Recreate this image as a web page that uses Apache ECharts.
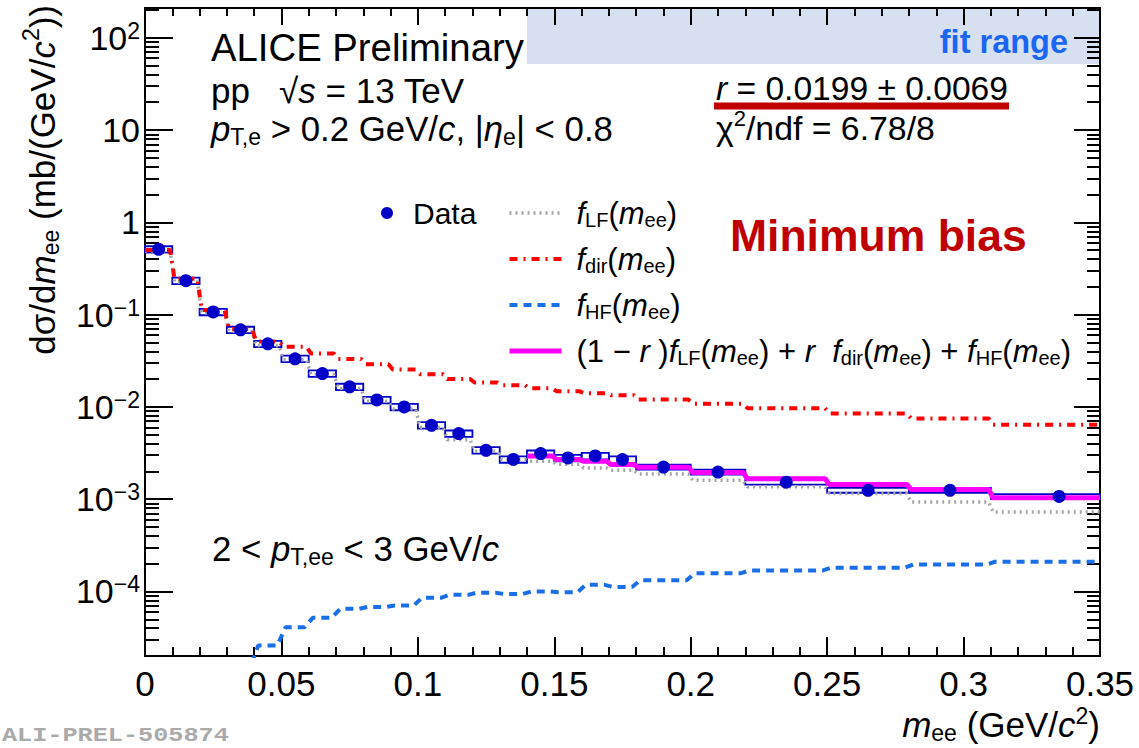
<!DOCTYPE html>
<html>
<head>
<meta charset="utf-8">
<title>ALICE Preliminary – dielectron fit</title>
<script src="https://cdn.jsdelivr.net/npm/echarts@6.0.0/dist/echarts.min.js"></script>
<style>
  html, body { margin: 0; padding: 0; background: #ffffff; }
  #chart { width: 1139px; height: 748px; }
</style>
</head>
<body>
<div id="chart"></div>
<script>
// ------------------------------------------------------------------ data
const binLo  = [0.00,0.01,0.02,0.03,0.04,0.05,0.06,0.07,0.08,0.09,0.10,0.11,0.12,0.13,0.14,0.15,0.16,0.17,0.18,0.20,0.22,0.25,0.28,0.31];
const binHi  = [0.01,0.02,0.03,0.04,0.05,0.06,0.07,0.08,0.09,0.10,0.11,0.12,0.13,0.14,0.15,0.16,0.17,0.18,0.20,0.22,0.25,0.28,0.31,0.35];
const dataX  = [0.005,0.015,0.025,0.035,0.045,0.055,0.065,0.075,0.085,0.095,0.105,0.115,0.125,0.135,0.145,0.155,0.165,0.175,0.19,0.21,0.235,0.265,0.295,0.335];
const dataY  = [0.51,0.233,0.107,0.0684,0.0482,0.0332,0.0230,0.0165,0.0119,0.0100,0.00632,0.00514,0.00339,0.00270,0.00312,0.00280,0.00294,0.00269,0.00223,0.00197,0.00153,0.00125,0.00125,0.00107];
const dataSys = [0.08,0.08,0.08,0.08,0.08,0.08,0.08,0.08,0.08,0.08,0.08,0.08,0.08,0.08,0.08,0.08,0.08,0.08,0.06,0.06,0.06,0.06,0.06,0.06];
const fLF    = [0.49,0.226,0.104,0.066,0.046,0.0325,0.0225,0.0158,0.0115,0.0095,0.0060,0.0044,0.0033,0.0027,0.00258,0.00239,0.00218,0.00206,0.00187,0.00160,0.00136,0.00115,0.00093,0.000726];
const fDir   = [0.50,0.245,0.112,0.070,0.051,0.0448,0.0379,0.0330,0.0290,0.0255,0.0226,0.0200,0.0184,0.0172,0.0159,0.0148,0.0141,0.0134,0.0120,0.0108,0.0097,0.0085,0.0075,0.0064];
const fHF    = [null,null,null,1.5e-5,2.6e-5,4.1e-5,5.2e-5,6.5e-5,6.8e-5,7.05e-5,8.55e-5,9.2e-5,9.7e-5,9.4e-5,1.0e-4,9.8e-5,1.18e-4,1.12e-4,1.32e-4,1.58e-4,1.69e-4,1.81e-4,1.96e-4,2.10e-4];
const fFit   = [null,null,null,null,null,null,null,null,null,null,null,null,null,null,0.00294,0.00270,0.00257,0.00237,0.00222,0.00195,0.00167,0.00144,0.00127,0.00104];
const fitRange = [0.14, 0.35];
const fitBandBottom = 52;
const yMajorExp = [-4, -3, -2, -1, 0, 1, 2];
const X_MIN = 0, X_MAX = 0.35, X_STEP = 0.05;
const Y_MIN = 2e-5, Y_MAX = 210;

// ------------------------------------------------------------------ helpers
const FONT = '"Liberation Sans", Arial, Helvetica, sans-serif';
const BLUE = '#0000c8';
const LMIN = Math.log10(Y_MIN), LMAX = Math.log10(Y_MAX);

const yMinorExp = [];
for (let n = -5; n <= 2; n++) {
  for (let k = 2; k <= 9; k++) {
    const e = Math.log10(k) + n;
    if (e > LMIN && e < LMAX) yMinorExp.push(e);
  }
}

function stepPoints(lo, hi, vals, d) {
  const pts = [];
  for (let i = 0; i < vals.length; i++) {
    if (vals[i] == null) continue;
    const first = (i === 0 || vals[i - 1] == null);
    const last = (i === vals.length - 1);
    pts.push([first ? lo[i] : lo[i] + d, vals[i]]);
    pts.push([last ? hi[i] : hi[i] - d, vals[i]]);
  }
  return pts;
}

function rich(S, o) {
  o = o || {};
  const LH = o.lh || Math.round(S * 1.2);
  const subS = Math.round(S * (o.subRatio || 0.65));
  const subShift = Math.round(S * (o.subShift || 0.25));
  const supShift = Math.round(S * (o.supShift || 0.3));
  const col = o.color || '#000000';
  const base = { fontFamily: FONT, fill: col, color: col, lineHeight: LH };
  return {
    n: Object.assign({}, base, { fontSize: S }),
    i: Object.assign({}, base, { fontSize: S, fontStyle: 'italic' }),
    b: Object.assign({}, base, { fontSize: S, fontWeight: 'bold' }),
    s: Object.assign({}, base, { fontSize: subS, padding: [2 * subShift, 0, 0, 0] }),
    p: Object.assign({}, base, { fontSize: subS, padding: [0, 0, 2 * supShift, 0] })
  };
}

function txt(x, y, text, S, o) {
  o = o || {};
  return {
    type: 'text', x: x, y: y, z: 10, silent: true,
    rotation: o.rotation || 0,
    style: {
      text: text, rich: rich(S, o), fill: o.color || '#000', fontFamily: FONT, fontSize: S,
      align: o.align || 'left', verticalAlign: 'middle'
    }
  };
}

function expLabel(v) {
  const n = Math.round(v);
  if (n === 0) return '{n|1}';
  if (n === 1) return '{n|10}';
  return '{n|10}{p|' + (n < 0 ? '\u2212' + (-n) : n) + '}';
}

const legendLabels = {
  fLF: '{i|f}{s|LF}{n|(}{i|m}{s|ee}{n|)}',
  fdir: '{i|f}{s|dir}{n|(}{i|m}{s|ee}{n|)}',
  fHF: '{i|f}{s|HF}{n|(}{i|m}{s|ee}{n|)}',
  fit: '{n|(1 \u2212 }{i|r}{n| )}{i|f}{s|LF}{n|(}{i|m}{s|ee}{n|) + }{i|r}{n|  }{i|f}{s|dir}{n|(}{i|m}{s|ee}{n|) + }{i|f}{s|HF}{n|(}{i|m}{s|ee}{n|)}'
};

const tickStyle = { color: '#000', width: 2 };

function yValAxis(position, major, len, withLine, withLabels) {
  return {
    type: 'value', position: position, min: LMIN, max: LMAX,
    axisLine: { show: withLine, onZero: false, lineStyle: { color: '#000', width: 2 } },
    axisTick: { show: true, inside: true, length: len, lineStyle: tickStyle,
                customValues: major ? yMajorExp : yMinorExp },
    axisLabel: withLabels ? {
      show: true, customValues: yMajorExp, formatter: expLabel, margin: 5,
      align: 'right', rich: rich(34, { lh: 40, supShift: 0.22, subRatio: 0.68 })
    } : { show: false },
    splitLine: { show: false }
  };
}

function xValAxis(position, majorLen, minorLen, withLabels) {
  return {
    type: 'value', position: position, min: X_MIN, max: X_MAX, interval: X_STEP,
    axisLine: { show: true, onZero: false, lineStyle: { color: '#000', width: 2 } },
    axisTick: { show: true, inside: true, length: majorLen, lineStyle: tickStyle },
    minorTick: { show: true, splitNumber: 5, length: minorLen, lineStyle: tickStyle },
    axisLabel: withLabels ? { show: true, fontSize: 35, fontFamily: FONT, color: '#000', margin: 10, lineHeight: 34 } : { show: false },
    splitLine: { show: false }
  };
}

// ------------------------------------------------------------------ chart
const chart = echarts.init(document.getElementById('chart'), null, { renderer: 'svg' });

const option = {
  animation: false,
  backgroundColor: '#ffffff',
  grid: { left: 145, right: 39, top: 8, bottom: 92, containLabel: false },
  xAxis: [
    xValAxis('bottom', 19, 9, true),
    xValAxis('top', 17, 8, false)
  ],
  yAxis: [
    { type: 'log', logBase: 10, min: Y_MIN, max: Y_MAX, show: false },
    yValAxis('left', true, 28, true, true),
    yValAxis('left', false, 14, false, false),
    yValAxis('right', true, 26, true, false),
    yValAxis('right', false, 13, false, false)
  ],
  legend: [
    {
      data: ['Data'], left: 381, top: 197, padding: 0, selectedMode: false,
      itemWidth: 12, itemHeight: 12, icon: 'circle',
      itemStyle: { color: BLUE, opacity: 1 },
      textStyle: { fontSize: 30, fontFamily: FONT, color: '#000', lineHeight: 32, padding: [0, 0, 0, 15] }
    },
    {
      data: [
        { name: 'fLF', lineStyle: { width: 3.5 } },
        { name: 'fdir', lineStyle: { width: 4 } },
        { name: 'fHF', lineStyle: { width: 4 } },
        { name: 'fit', lineStyle: { width: 5 } }
      ],
      orient: 'vertical', left: 507, top: 196, padding: 0,
      selectedMode: false, itemWidth: 52, itemHeight: 14, itemGap: 12,
      itemStyle: { color: 'rgba(0,0,0,0)', opacity: 0, borderWidth: 0 },
      lineStyle: { width: 4 },
      formatter: function (name) { return legendLabels[name]; },
      textStyle: { fontSize: 31, fontFamily: FONT, color: '#000', lineHeight: 32, padding: [0, 0, 0, 10],
                   rich: rich(31, { lh: 32, subShift: 0.24, subRatio: 0.66 }) }
    }
  ],
  series: [
    {
      type: 'custom', name: 'fit range', xAxisIndex: 0, yAxisIndex: 0, z: -1, silent: true,
      data: [[fitRange[0], fitRange[1], fitBandBottom, Y_MAX]],
      encode: { x: [0, 1], y: [2, 3] },
      renderItem: function (params, api) {
        const a = api.coord([api.value(0), api.value(3)]);
        const b = api.coord([api.value(1), api.value(2)]);
        return { type: 'rect', shape: { x: a[0], y: a[1], width: b[0] - a[0], height: b[1] - a[1] },
                 style: { fill: '#d6e0f0' } };
      }
    },
    {
      type: 'custom', name: 'Data syst.', xAxisIndex: 0, yAxisIndex: 0, z: 2, silent: true,
      data: binLo.map(function (lo, i) { return [lo, binHi[i], dataY[i], dataSys[i]]; }),
      encode: { x: [0, 1], y: [2] },
      renderItem: function (params, api) {
        const v = api.value(2), s = api.value(3);
        const a = api.coord([api.value(0), v * (1 + s)]);
        const b = api.coord([api.value(1), v * (1 - s)]);
        return { type: 'rect', shape: { x: a[0], y: a[1], width: b[0] - a[0], height: b[1] - a[1] },
                 style: { fill: 'none', stroke: BLUE, lineWidth: 1.8 } };
      }
    },
    {
      type: 'line', name: 'fLF', xAxisIndex: 0, yAxisIndex: 0, z: 3, symbol: 'none', silent: true,
      data: stepPoints(binLo, binHi, fLF, 0.0008),
      lineStyle: { color: '#a4a4a4', width: 3.5, type: [2, 4] }, itemStyle: { color: '#a4a4a4' }
    },
    {
      type: 'line', name: 'fdir', xAxisIndex: 0, yAxisIndex: 0, z: 3, symbol: 'none', silent: true,
      data: stepPoints(binLo, binHi, fDir, 0.0008),
      lineStyle: { color: '#ff0000', width: 4, type: [8, 6, 2, 6] }, itemStyle: { color: '#ff0000' }
    },
    {
      type: 'line', name: 'fHF', xAxisIndex: 0, yAxisIndex: 0, z: 3, symbol: 'none', silent: true,
      data: stepPoints(binLo, binHi, fHF, 0.0015),
      lineStyle: { color: '#1a6ee6', width: 4, type: [8, 6] }, itemStyle: { color: '#1a6ee6' }
    },
    {
      type: 'line', name: 'fit', xAxisIndex: 0, yAxisIndex: 0, z: 4, symbol: 'none', silent: true,
      data: stepPoints(binLo, binHi, fFit, 0.0007),
      lineStyle: { color: '#ff00ff', width: 5 }, itemStyle: { color: '#ff00ff' }
    },
    {
      type: 'scatter', name: 'Data', xAxisIndex: 0, yAxisIndex: 0, z: 5, silent: true,
      data: dataX.map(function (x, i) { return [x, dataY[i]]; }),
      symbol: 'circle', symbolSize: 13, itemStyle: { color: BLUE, opacity: 1 }
    }
  ],
  graphic: {
    elements: [
      txt(211, 47, '{n|ALICE Preliminary}', 38.3),
      txt(211, 90, '{n|pp   \u221A}{i|s}{n| = 13 TeV}', 35),
      txt(211, 128, '{i|p}{s|T,e}{n| > 0.2 GeV/}{i|c}{n|, |}{i|\u03B7}{s|e}{n|| < 0.8}', 34.8),
      txt(716, 88, '{i|r}{n| = 0.0199 \u00B1 0.0069}', 33.6),
      { type: 'line', z: 10, silent: true, shape: { x1: 714, y1: 106, x2: 1009, y2: 106 },
        style: { stroke: '#c00000', lineWidth: 7 } },
      txt(716, 128, '{n|\u03C7}{p|2}{n|/ndf = 6.78/8}', 33.8),
      txt(730, 235, '{b|Minimum bias}', 44.5, { color: '#c00000' }),
      txt(212, 548, '{n|2 < }{i|p}{s|T,ee}{n| < 3 GeV/}{i|c}', 34.8),
      txt(1068, 42, '{b|fit range}', 32.5, { color: '#1a66f2', align: 'right' }),
      txt(1100, 724, '{i|m}{s|ee}{n| (GeV/}{i|c}{p|2}{n|)}', 35, { align: 'right', lh: 34, supShift: 0.22 }),
      txt(42, 5, '{n|d\u03C3/d}{i|m}{s|ee}{n| (mb/(GeV/}{i|c}{p|2}{n|))}', 35, { align: 'right', rotation: Math.PI / 2, lh: 38 }),
      {
        type: 'text', x: 2, y: 736, scaleX: 1.2, z: 10, silent: true,
        style: { text: 'ALI-PREL-505874', fill: '#aaaaaa', fontFamily: '"Liberation Mono", "DejaVu Sans Mono", monospace',
                 fontWeight: 'bold', fontSize: 21, align: 'left', verticalAlign: 'middle' }
      }
    ]
  }
};

chart.setOption(option);
</script>
</body>
</html>
